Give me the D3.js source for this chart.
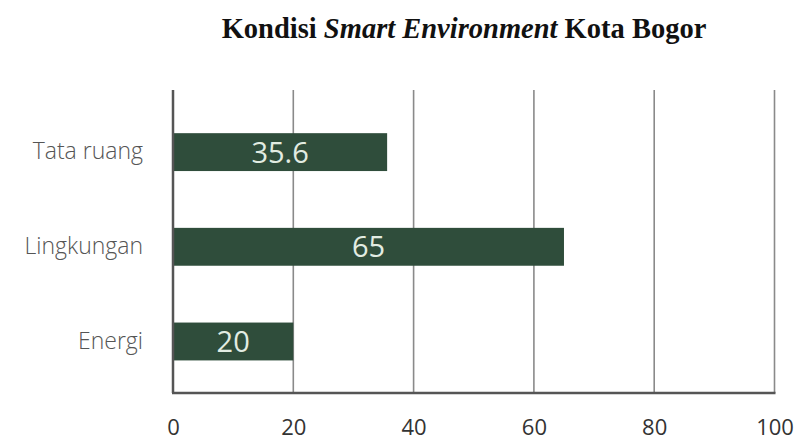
<!DOCTYPE html>
<html>
<head>
<meta charset="utf-8">
<script src="https://cdn.jsdelivr.net/npm/d3@7"></script>
<style>
  html, body { margin: 0; padding: 0; background: #ffffff; }
  svg { display: block; }
</style>
</head>
<body>
<svg id="chart" width="800" height="442"></svg>
<script>
// Smart Environment indicators for Kota Bogor
const categories = ["Tata ruang", "Lingkungan", "Energi"];
const values = [35.6, 65, 20];
const tickValues = [0, 20, 40, 60, 80, 100];

const svg = d3.select("#chart");
const plot = { left: 173, right: 774.5, top: 90, bottom: 393 };

const x = d3.scaleLinear().domain([0, 100]).range([plot.left, plot.right]);
const y = d3.scaleBand()
  .domain(categories)
  .range([plot.top, plot.bottom])
  .paddingInner(0.6)
  .paddingOuter(0.4)
  .align(0.57);

// Title with the italic phrase
const title = svg.append("text")
  .attr("x", 464)
  .attr("y", 38)
  .attr("text-anchor", "middle")
  .attr("font-family", "'Liberation Serif', 'DejaVu Serif', serif")
  .attr("font-weight", "bold")
  .attr("font-size", 28.5)
  .attr("fill", "#111");
title.append("tspan").text("Kondisi ");
title.append("tspan").attr("font-style", "italic").text("Smart Environment");
title.append("tspan").text(" Kota Bogor");

// Vertical grid lines
svg.append("g")
  .selectAll("line")
  .data(tickValues.filter(d => d > 0))
  .join("line")
  .attr("x1", d => x(d))
  .attr("x2", d => x(d))
  .attr("y1", plot.top)
  .attr("y2", plot.bottom)
  .attr("stroke", "#8a8a8a")
  .attr("stroke-width", 1.6);

// Bars
svg.append("g")
  .selectAll("rect")
  .data(values)
  .join("rect")
  .attr("x", x(0))
  .attr("y", (d, i) => y(categories[i]))
  .attr("width", d => x(d) - x(0))
  .attr("height", y.bandwidth())
  .attr("fill", "#2f4d3b");

// Value labels inside the bars
svg.append("g")
  .selectAll("text")
  .data(values)
  .join("text")
  .attr("x", d => (x(0) + x(d)) / 2)
  .attr("y", (d, i) => y(categories[i]) + y.bandwidth() / 2)
  .attr("dy", "0.36em")
  .attr("text-anchor", "middle")
  .attr("font-family", "'Open Sans', 'Noto Sans', sans-serif")
  .attr("font-size", 29)
  .attr("fill", "#e2ece2")
  .text(d => String(d));

// Axis frame: left and bottom lines
svg.append("line")
  .attr("x1", plot.left).attr("x2", plot.left)
  .attr("y1", plot.top).attr("y2", plot.bottom)
  .attr("stroke", "#555").attr("stroke-width", 2.5);
svg.append("line")
  .attr("x1", plot.left - 1).attr("x2", plot.right + 1)
  .attr("y1", plot.bottom).attr("y2", plot.bottom)
  .attr("stroke", "#555").attr("stroke-width", 2.5);

// Category labels
const yAxis = svg.append("g")
  .attr("transform", `translate(${plot.left},0)`)
  .call(d3.axisLeft(y).tickSize(0).tickPadding(30));
yAxis.select(".domain").remove();
yAxis.selectAll("text")
  .attr("font-family", "'Open Sans', 'Noto Sans', sans-serif")
  .attr("font-size", 23)
  .attr("font-weight", 300)
  .attr("fill", "#555");

// X tick labels
const xAxis = svg.append("g")
  .attr("transform", `translate(0,${plot.bottom})`)
  .call(d3.axisBottom(x).tickValues(tickValues).tickSize(0).tickPadding(0));
xAxis.select(".domain").remove();
xAxis.selectAll("text")
  .attr("y", 42)
  .attr("dy", null)
  .attr("font-family", "'Open Sans', 'Noto Sans', sans-serif")
  .attr("font-size", 22)
  .attr("fill", "#333");
</script>
</body>
</html>
